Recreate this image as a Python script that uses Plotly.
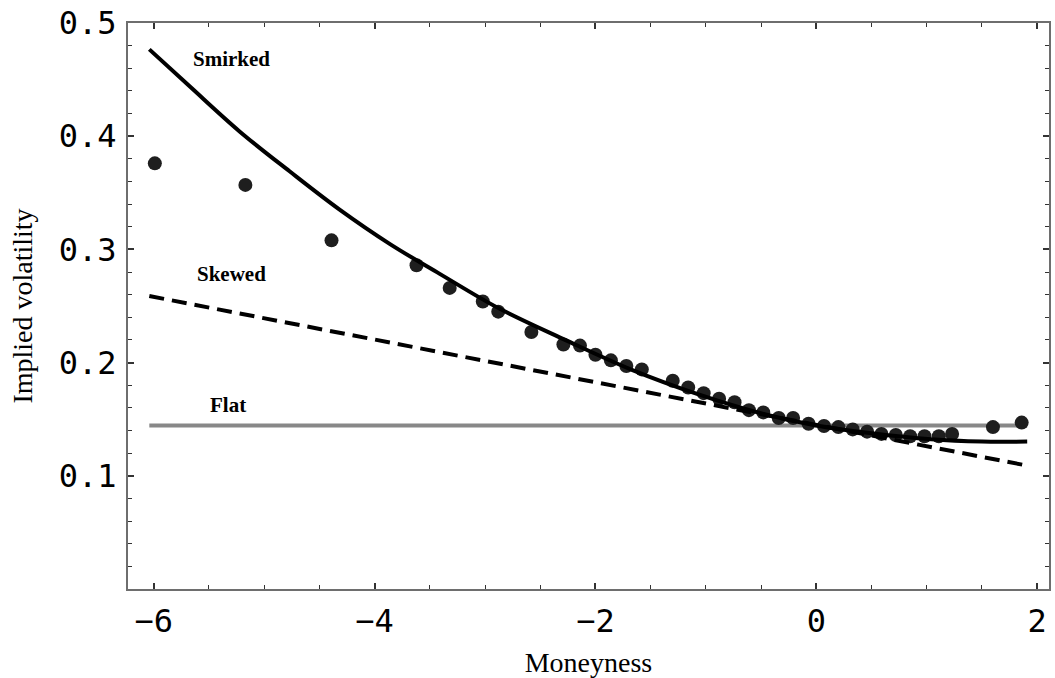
import plotly.graph_objects as go

# Market data (moneyness, implied vol)
obs_x = [-5.99, -5.17, -4.39, -3.62, -3.32, -3.02, -2.88, -2.58, -2.29, -2.14, -2.00,
         -1.86, -1.72, -1.58, -1.30, -1.16, -1.02, -0.88, -0.74, -0.61, -0.48, -0.34,
         -0.21, -0.07, 0.07, 0.20, 0.33, 0.46, 0.59, 0.72, 0.85, 0.98, 1.11, 1.23,
         1.60, 1.86]
obs_y = [0.376, 0.357, 0.308, 0.286, 0.266, 0.254, 0.245, 0.227, 0.216, 0.215, 0.207,
         0.202, 0.197, 0.194, 0.184, 0.178, 0.173, 0.168, 0.165, 0.158, 0.156, 0.151,
         0.151, 0.146, 0.144, 0.143, 0.141, 0.139, 0.137, 0.136, 0.135, 0.135, 0.135,
         0.137, 0.143, 0.147]

# Smirked model curve
smirk_x = [-6.04, -5.67, -5.22, -4.77, -4.32, -3.86, -3.41, -2.87, -2.27, -1.67,
           -1.06, -0.46, 0.0, 0.5, 1.04, 1.5, 1.91]
smirk_y = [0.4767, 0.4436, 0.404, 0.369, 0.3354, 0.3047, 0.2784, 0.2477, 0.2199,
           0.1936, 0.1717, 0.1542, 0.1445, 0.1375, 0.1322, 0.1302, 0.1302]

# Skewed model line
skew_x = [-6.04, 1.91]
skew_y = [0.2588, 0.1090]

# Flat model line
flat_x = [-6.04, 1.91]
flat_y = [0.1445, 0.1445]

labels = ["Smirked", "Skewed", "Flat"]
label_x = [-5.30, -5.30, -5.33]
label_y = [0.468, 0.278, 0.1625]

x_ticks = [-6, -4, -2, 0, 2]
y_ticks = [0.1, 0.2, 0.3, 0.4, 0.5]

fig = go.Figure()
fig.add_trace(go.Scatter(x=flat_x, y=flat_y, mode="lines",
                         line=dict(color="#888888", width=4), showlegend=False))
fig.add_trace(go.Scatter(x=obs_x, y=obs_y, mode="markers",
                         marker=dict(color="#1e1e1e", size=14), showlegend=False))
fig.add_trace(go.Scatter(x=smirk_x, y=smirk_y, mode="lines",
                         line=dict(color="black", width=4, shape="spline"), showlegend=False))
fig.add_trace(go.Scatter(x=skew_x, y=skew_y, mode="lines",
                         line=dict(color="black", width=4, dash="15px,8px"), showlegend=False))

for t, x, y in zip(labels, label_x, label_y):
    fig.add_annotation(x=x, y=y, text="<b>%s</b>" % t, showarrow=False,
                       font=dict(family="Liberation Serif", size=21, color="black"))

tickfont = dict(family="DejaVu Sans Mono", size=32, color="black")
axis_common = dict(showgrid=False, zeroline=False, showline=True, linecolor="#6e6e6e",
                   linewidth=2, mirror="ticks", ticks="inside", ticklen=6, tickwidth=1.5,
                   tickcolor="#333333", tickfont=tickfont)

fig.update_xaxes(range=[-6.233, 2.1075], tickvals=x_ticks, **axis_common,
                 minor=dict(dtick=0.5, tick0=0, ticks="inside", ticklen=4, tickwidth=1.2,
                            tickcolor="#333333"),
                 ticklabelstandoff=3,
                 title=dict(text="Moneyness", standoff=14,
                            font=dict(family="Liberation Serif", size=28, color="black")))
fig.update_yaxes(range=[0, 0.5], tickvals=y_ticks, tickformat=".1f", **axis_common,
                 minor=dict(dtick=0.02, tick0=0, ticks="inside", ticklen=4, tickwidth=1.2,
                            tickcolor="#333333"),
                 ticklabelstandoff=3,
                 title=dict(text="Implied volatility", standoff=18,
                            font=dict(family="Liberation Serif", size=28, color="black")))

fig.update_layout(width=1055, height=678, margin=dict(l=128, r=4, t=21, b=87),
                  plot_bgcolor="white", paper_bgcolor="white")

fig.write_html("out.html")
